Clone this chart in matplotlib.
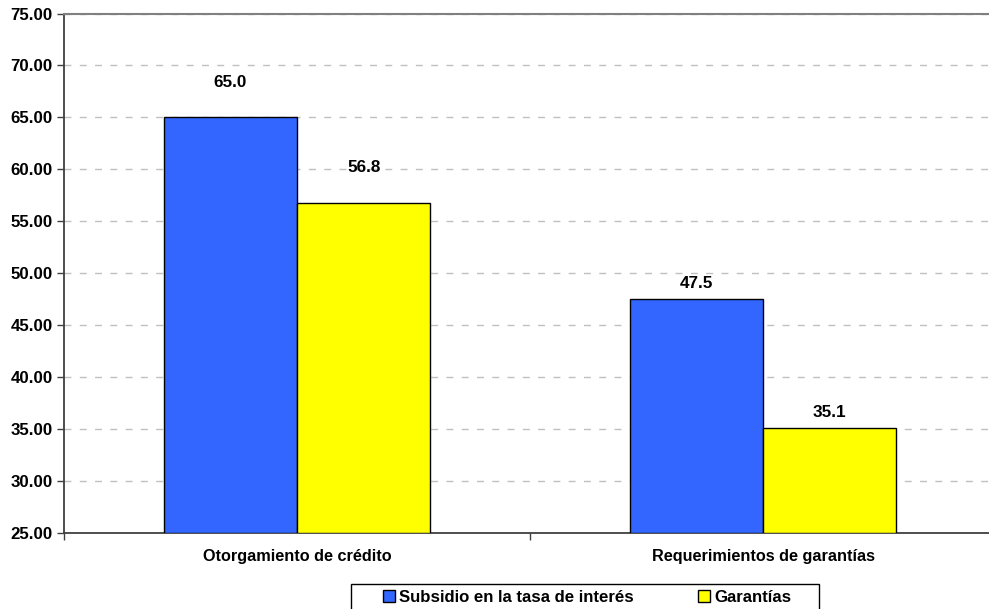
import matplotlib
matplotlib.use("Agg")
import matplotlib.pyplot as plt
from matplotlib.patches import Patch, Rectangle
import numpy as np

categories = ["Otorgamiento de crédito", "Requerimientos de garantías"]
series_names = ["Subsidio en la tasa de interés", "Garantías"]
subsidio = [65.0, 47.5]
garantias = [56.8, 35.1]
yticks = [25, 30, 35, 40, 45, 50, 55, 60, 65, 70, 75]

colors = ["#3366FF", "#FFFF00"]
label_offset_by_category = [25, 11.5]  # points above bar top

plt.rcParams['font.family'] = ['Liberation Sans', 'DejaVu Sans']
plt.rcParams['font.weight'] = 'bold'

W, H = 989, 609
fig = plt.figure(figsize=(W / 100, H / 100), dpi=100)
ax = fig.add_axes([64 / W, 1 - 533 / H, (996 - 64) / W, (533 - 13.5) / H])

x = np.arange(len(categories))
bw = 0.286
series = [subsidio, garantias]
for i, vals in enumerate(series):
    pos = x + (i - 0.5) * bw
    ax.bar(pos, np.array(vals) - 25, bottom=25, width=bw, color=colors[i],
           edgecolor="black", linewidth=1.0, zorder=3)
    for j, (p, v) in enumerate(zip(pos, vals)):
        ax.annotate(f"{v:.1f}", (p, v), xytext=(0, label_offset_by_category[j]),
                    textcoords="offset points", ha="center", va="center",
                    fontsize=12.3, fontweight="bold", zorder=4)

ax.set_ylim(25, 75)
ax.set_xlim(-0.5, 1.5)
ax.set_yticks(yticks)
ax.set_yticklabels([f"{t:.2f}" for t in yticks], fontsize=12.2, fontweight="bold")
ax.tick_params(axis="y", direction="out", length=5, width=1, color="#404040", pad=3)

ax.set_xticks([-0.5, 0.5, 1.5])
ax.set_xticklabels([])
ax.tick_params(axis="x", which="major", direction="out", length=5, width=1, color="#404040")
ax.set_xticks(x, minor=True)
ax.set_xticklabels(categories, minor=True, fontsize=11.7, fontweight="bold")
ax.tick_params(axis="x", which="minor", length=0, pad=11.5)

ax.yaxis.grid(True, color="#C0C0C0", linestyle=(0, (5, 6)), linewidth=1, zorder=0)
ax.set_axisbelow(True)

ax.spines["left"].set_color("#404040")
ax.spines["left"].set_linewidth(1.3)
ax.spines["bottom"].set_color("#404040")
ax.spines["bottom"].set_linewidth(1.3)
ax.spines["top"].set_color("#808080")
ax.spines["top"].set_linewidth(1.5)
ax.spines["right"].set_visible(False)

# legend frame
fig.patches.append(Rectangle((351 / W, 1 - 625 / H), (819 - 351) / W, (625 - 583.5) / H,
                             transform=fig.transFigure, facecolor="white",
                             edgecolor="black", linewidth=1.0, zorder=1))

handles = [Patch(facecolor=colors[i], edgecolor="black", linewidth=1) for i in range(2)]
leg = fig.legend(handles, series_names, loc="center left",
                 bbox_to_anchor=(383 / W, 1 - 597 / H), ncol=2, frameon=False,
                 prop={"size": 12.1, "weight": "bold"},
                 handlelength=0.7, handleheight=0.7, handletextpad=0.25,
                 columnspacing=3.85, borderpad=0, borderaxespad=0)

fig.savefig("out.png", dpi=100)
